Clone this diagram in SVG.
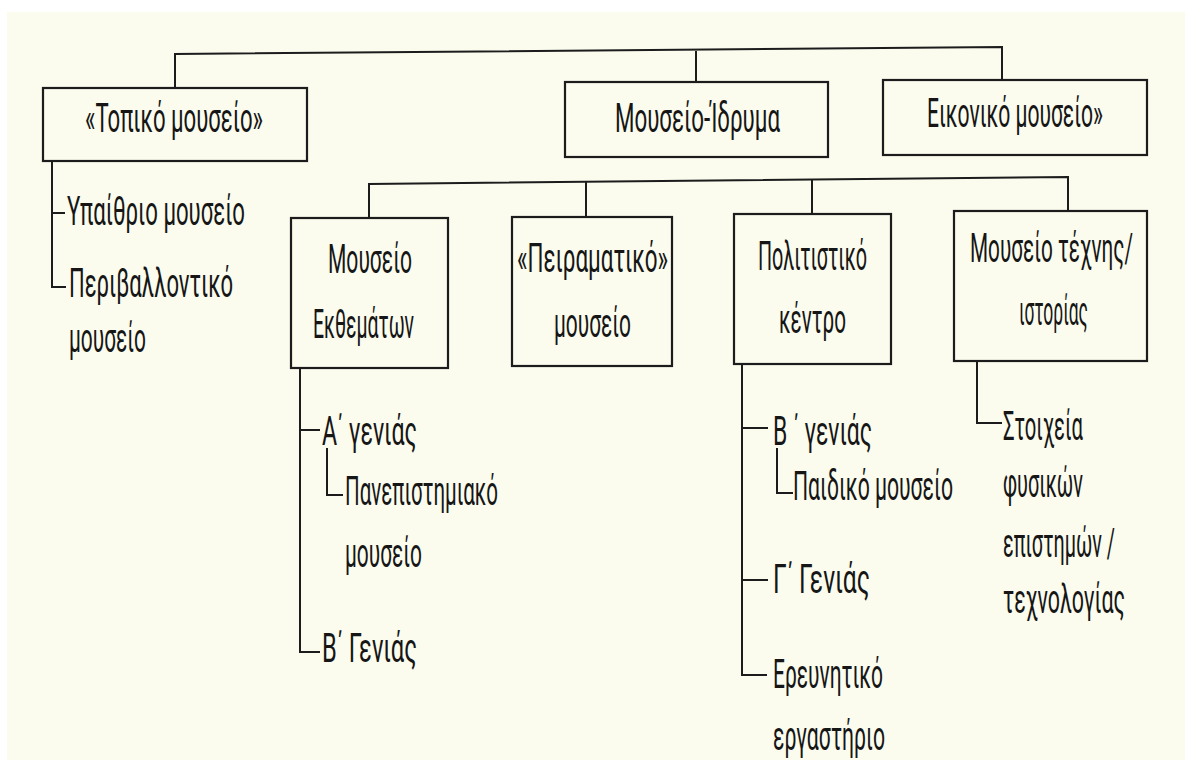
<svg xmlns="http://www.w3.org/2000/svg" width="1185" height="773" viewBox="0 0 1185 773">
<style>
.bg{fill:#fbfcee}
.box{fill:none;stroke:#1c1c1c;stroke-width:2.2}
.c{fill:none;stroke:#1c1c1c;stroke-width:2}
.t{font-family:Roboto,"Liberation Sans",sans-serif;font-weight:400;font-size:40px;fill:#161616}
</style>
<rect x="0" y="0" width="1185" height="773" fill="#ffffff"/>
<rect class="bg" x="7" y="12" width="1178" height="748"/>
<g id="connectors">
<path class="c" d="M175,88 V54 L1002,47 V80"/>
<path class="c" d="M696,51 V82"/>
<path class="c" d="M369,218 V184 L1068,177 V211"/>
<path class="c" d="M586,182 V217"/>
<path class="c" d="M812,180 V214"/>
<path class="c" d="M52,160 V287 H66"/>
<path class="c" d="M52,213 H65"/>
<path class="c" d="M300,368 V652 H320"/>
<path class="c" d="M300,430 H320"/>
<path class="c" d="M327,448 V495 H343"/>
<path class="c" d="M742,364 V675 H767"/>
<path class="c" d="M742,428 H768"/>
<path class="c" d="M742,580 H768"/>
<path class="c" d="M777,448 V493 H793"/>
<path class="c" d="M977,361 V423 H1002"/>
</g>
<g id="n-topiko">
<rect class="box" x="43" y="88" width="264" height="73"/>
<g transform="scale(0.6 1)"><text class="t" x="141.67" y="132" textLength="296.67" lengthAdjust="spacingAndGlyphs">«Τοπικό μουσείο»</text></g>
</g>
<g id="n-idryma">
<rect class="box" x="565" y="82" width="263" height="75"/>
<g transform="scale(0.6 1)"><text class="t" x="1025" y="132" textLength="275" lengthAdjust="spacingAndGlyphs">Μουσείο-Ίδρυμα</text></g>
</g>
<g id="n-eikoniko">
<rect class="box" x="883" y="80" width="264" height="75"/>
<g transform="scale(0.6 1)"><text class="t" x="1545" y="127" textLength="293.33" lengthAdjust="spacingAndGlyphs">Εικονικό μουσείο»</text></g>
</g>
<g id="n-ypaithrio">
<g transform="scale(0.6 1)"><text class="t" x="111.67" y="225" textLength="296.67" lengthAdjust="spacingAndGlyphs">Υπαίθριο μουσείο</text></g>
</g>
<g id="n-perivallontiko">
<g transform="scale(0.6 1)">
<text class="t" x="115" y="297" textLength="273.33" lengthAdjust="spacingAndGlyphs">Περιβαλλοντικό</text>
<text class="t" x="115" y="352" textLength="128.33" lengthAdjust="spacingAndGlyphs">μουσείο</text>
</g>
</g>
<g id="n-ekthematon">
<rect class="box" x="291" y="218" width="157" height="150"/>
<g transform="scale(0.6 1)">
<text class="t" x="546.67" y="273" textLength="140" lengthAdjust="spacingAndGlyphs">Μουσείο</text>
<text class="t" x="521.67" y="338" textLength="168.33" lengthAdjust="spacingAndGlyphs">Εκθεμάτων</text>
</g>
</g>
<g id="n-peiramatiko">
<rect class="box" x="512" y="217" width="160" height="149"/>
<g transform="scale(0.6 1)">
<text class="t" x="861.67" y="272" textLength="251.67" lengthAdjust="spacingAndGlyphs">«Πειραματικό»</text>
<text class="t" x="923.33" y="337" textLength="128.33" lengthAdjust="spacingAndGlyphs">μουσείο</text>
</g>
</g>
<g id="n-politistiko">
<rect class="box" x="734" y="214" width="157" height="150"/>
<g transform="scale(0.6 1)">
<text class="t" x="1263.33" y="270" textLength="181.67" lengthAdjust="spacingAndGlyphs">Πολιτιστικό</text>
<text class="t" x="1298.33" y="333" textLength="111.67" lengthAdjust="spacingAndGlyphs">κέντρο</text>
</g>
</g>
<g id="n-technis">
<rect class="box" x="954" y="211" width="193" height="150"/>
<g transform="scale(0.6 1)">
<text class="t" x="1616.67" y="262" textLength="271.67" lengthAdjust="spacingAndGlyphs">Μουσείο τέχνης/</text>
<text class="t" x="1698.33" y="325" textLength="115" lengthAdjust="spacingAndGlyphs">ιστορίας</text>
</g>
</g>
<g id="n-a-genias">
<g transform="scale(0.6 1)"><text class="t" x="536.67" y="445" textLength="158.33" lengthAdjust="spacingAndGlyphs">Α΄ γενιάς</text></g>
</g>
<g id="n-panepistimiako">
<g transform="scale(0.6 1)">
<text class="t" x="575" y="505" textLength="255" lengthAdjust="spacingAndGlyphs">Πανεπιστημιακό</text>
<text class="t" x="575" y="567" textLength="128.33" lengthAdjust="spacingAndGlyphs">μουσείο</text>
</g>
</g>
<g id="n-b-genias-1">
<g transform="scale(0.6 1)"><text class="t" x="536.67" y="662" textLength="158.33" lengthAdjust="spacingAndGlyphs">Β΄ Γενιάς</text></g>
</g>
<g id="n-b-genias-2">
<g transform="scale(0.6 1)"><text class="t" x="1288.33" y="445" textLength="165" lengthAdjust="spacingAndGlyphs">Β ΄ γενιάς</text></g>
</g>
<g id="n-paidiko">
<g transform="scale(0.6 1)"><text class="t" x="1321.67" y="500" textLength="266.67" lengthAdjust="spacingAndGlyphs">Παιδικό μουσείο</text></g>
</g>
<g id="n-g-genias">
<g transform="scale(0.6 1)"><text class="t" x="1288.33" y="593" textLength="161.67" lengthAdjust="spacingAndGlyphs">Γ΄ Γενιάς</text></g>
</g>
<g id="n-erevnitiko">
<g transform="scale(0.6 1)">
<text class="t" x="1288.33" y="688" textLength="183.33" lengthAdjust="spacingAndGlyphs">Ερευνητικό</text>
<text class="t" x="1288.33" y="750" textLength="186.67" lengthAdjust="spacingAndGlyphs">εργαστήριο</text>
</g>
</g>
<g id="n-stoixeia">
<g transform="scale(0.6 1)">
<text class="t" x="1671.67" y="440" textLength="133.33" lengthAdjust="spacingAndGlyphs">Στοιχεία</text>
<text class="t" x="1671.67" y="497" textLength="133.33" lengthAdjust="spacingAndGlyphs">φυσικών</text>
<text class="t" x="1671.67" y="557" textLength="186.67" lengthAdjust="spacingAndGlyphs">επιστημών /</text>
<text class="t" x="1671.67" y="613" textLength="203.33" lengthAdjust="spacingAndGlyphs">τεχνολογίας</text>
</g>
</g>
</svg>
